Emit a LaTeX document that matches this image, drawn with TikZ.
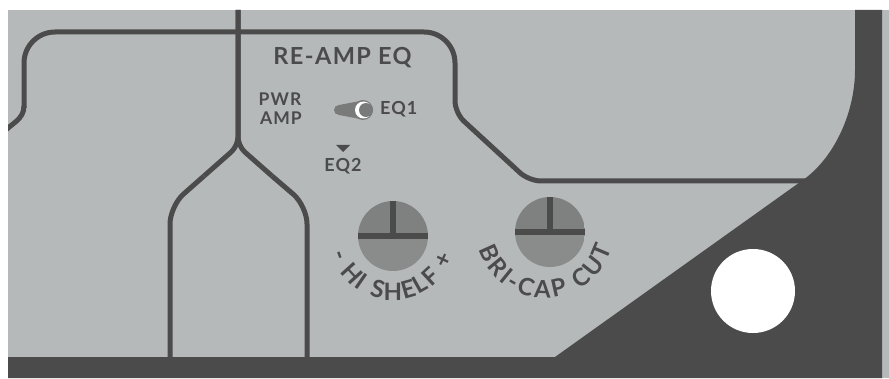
\documentclass[tikz,border=0pt]{standalone}
\usepackage{fontspec}
\usepackage{tikz}
\usetikzlibrary{calc,decorations.text}
\newfontfamily\panelfont{Lato}[LetterSpace=6]
\definecolor{panel}{HTML}{B6B9BA}
\definecolor{ink}{HTML}{4A4B4A}
\definecolor{knobtop}{HTML}{7F8080}
\definecolor{knobbot}{HTML}{8A8B8B}
\definecolor{lever}{HTML}{797A7A}

\begin{document}
\begin{tikzpicture}[x=1pt, y=1pt,
  trace/.style={draw=ink, line width=5pt, line join=round},
  label/.style={text=ink, inner sep=0pt, anchor=base, font=\panelfont\bfseries},
  arclabel/.style={decorate, decoration={text along path, text align=fit to path,
      text color=ink, text={|\panelfont\bfseries\fontsize{24}{24}\selectfont|#1}}}]
  \useasboundingbox (0,0) rectangle (889,378);
  \fill[white] (0,0) rectangle (889,378);
  % 1 unit = 1 px of the panel, y measured from the bottom
  \coordinate (hishelf) at (393,142);
  \coordinate (bricap)  at (550,146);
  \coordinate (toggle)  at (363,268);
  \begin{scope}
    \clip (8,0) rectangle (889,368);
    \fill[panel] (8,0) rectangle (889,368);
    % outline of the upper section
    \draw[trace] (2,244) to[out=50,in=-90] (24,272);
    \draw[trace, rounded corners=31pt] (24,270) -- (24,346) -- (455,346) -- (455,300);
    \draw[trace, rounded corners=12pt] (455,300) -- (455,265) -- (529,197) -- (806,197);
    % stem that forks into two legs
    \draw[trace, rounded corners=9pt]  (238,368) -- (238,232) -- (204,202);
    \draw[trace, rounded corners=9pt]  (238,368) -- (238,232) -- (272,202);
    \draw[trace, rounded corners=18pt] (204,202) -- (170,172) -- (170,21);
    \draw[trace, rounded corners=18pt] (272,202) -- (307,172) -- (307,21);
    % dark frame: bottom band, right strip and the swept corner
    \fill[ink] (855,368) -- (855,308) to[out=-90,in=35.5,looseness=0.85] (803,198) -- (555,21)
      -- (8,21) -- (8,0) -- (882,0) -- (882,368) -- cycle;
    \fill[white] (753,87) circle[radius=42];
  \end{scope}
  % knobs
  \foreach \k in {hishelf, bricap} {
    \begin{scope}
      \clip (\k) circle[radius=35];
      \fill[knobbot] ($(\k)+(-35,-35)$) rectangle ($(\k)+(35,0)$);
      \fill[knobtop] ($(\k)+(-35,0)$) rectangle ($(\k)+(35,35)$);
      \fill[ink] ($(\k)+(-36,-3.3)$) rectangle ($(\k)+(36,3.3)$);
      \fill[ink] ($(\k)+(-3.3,0)$) rectangle ($(\k)+(3.3,36)$);
    \end{scope}
  }
  \path[arclabel={- HI SHELF +}] ($(hishelf)+(196:64)$) arc[start angle=196, end angle=341, radius=64];
  \path[arclabel={BRI-CAP CUT}] ($(545,150)+(198:70)$) arc[start angle=198, end angle=343, radius=70];
  % toggle switch
  \fill[lever] (339,273) -- (363,277.5) -- (363,258.5) -- (339,263) arc[start angle=270, end angle=90, radius=5];
  \fill[lever] (toggle) circle[radius=10];
  \fill[white] ($(toggle)+(0.5,0)$) circle[radius=8.5];
  \fill[lever] ($(toggle)+(3,0)$) circle[radius=7];
  \fill[ink] (336,233) -- (350,233) -- (343,226) -- cycle;
  % labels
  \node[label, font=\panelfont\bfseries\fontsize{23.5}{24}\selectfont] (reamp) at (342.5,313) {RE-AMP EQ};
  \node[label, font=\panelfont\bfseries\fontsize{17.5}{18}\selectfont] (pwr) at (280,272) {PWR};
  \node[label, font=\panelfont\bfseries\fontsize{17.5}{18}\selectfont] (amp) at (281,253.5) {AMP};
  \node[label, anchor=base west, font=\panelfont\bfseries\fontsize{18}{18}\selectfont] (eqone) at (380,263) {EQ1};
  \node[label, font=\panelfont\bfseries\fontsize{18}{18}\selectfont] (eqtwo) at (343,206) {EQ2};
\end{tikzpicture}
\end{document}
